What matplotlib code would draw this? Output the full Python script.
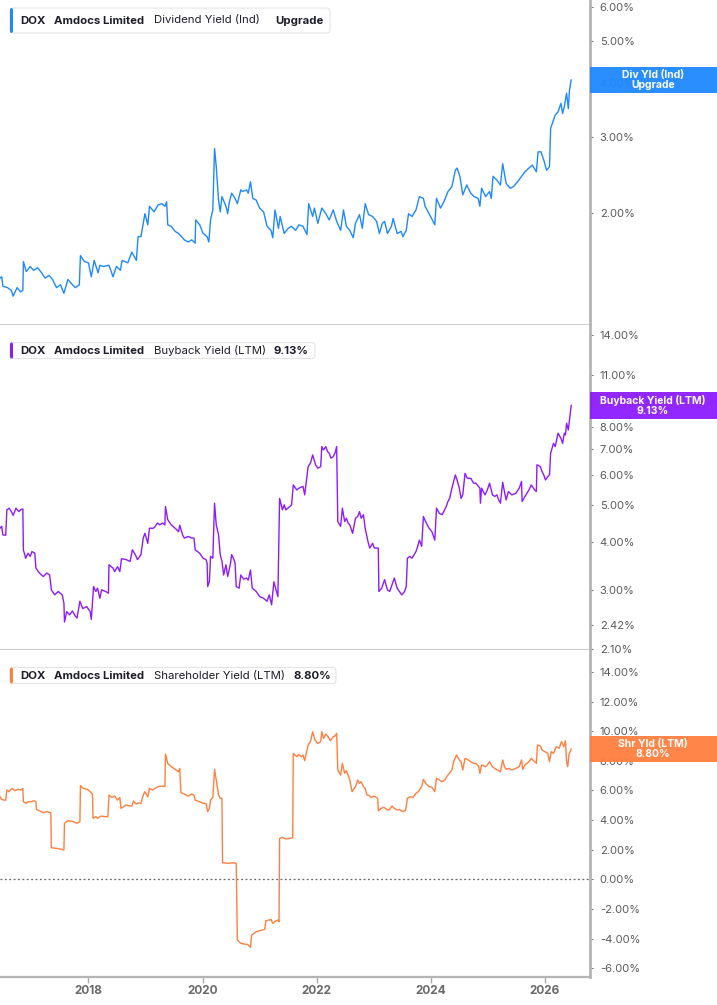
import matplotlib
matplotlib.use("Agg")
import matplotlib.pyplot as plt
from matplotlib.patches import FancyBboxPatch, Rectangle
from matplotlib.ticker import FixedLocator, NullLocator

W, H = 717, 1005

# Dividend yield (Ind), %
div_years = [2016.45, 2016.48, 2016.50, 2016.58, 2016.65, 2016.68, 2016.75, 2016.81, 2016.85, 2016.86,
             2016.91, 2016.98, 2017.04, 2017.11, 2017.18, 2017.24, 2017.31, 2017.37, 2017.44, 2017.51,
             2017.57, 2017.64, 2017.70, 2017.77, 2017.84, 2017.86, 2017.93, 2018.00, 2018.05, 2018.10,
             2018.17, 2018.20, 2018.26, 2018.36, 2018.43, 2018.49, 2018.56, 2018.59, 2018.69, 2018.76,
             2018.84, 2018.87, 2018.92, 2018.96, 2018.99, 2019.04, 2019.07, 2019.15, 2019.22, 2019.29,
             2019.34, 2019.37, 2019.39, 2019.45, 2019.52, 2019.58, 2019.68, 2019.75, 2019.81, 2019.87,
             2019.88, 2019.95, 2020.01, 2020.08, 2020.11, 2020.14, 2020.18, 2020.21, 2020.24, 2020.28,
             2020.31, 2020.34, 2020.41, 2020.44, 2020.47, 2020.51, 2020.57, 2020.61, 2020.67, 2020.70,
             2020.77, 2020.80, 2020.84, 2020.88, 2020.94, 2021.00, 2021.07, 2021.13, 2021.20, 2021.23,
             2021.27, 2021.33, 2021.36, 2021.43, 2021.50, 2021.56, 2021.63, 2021.69, 2021.76, 2021.83,
             2021.86, 2021.93, 2021.96, 2022.02, 2022.09, 2022.16, 2022.22, 2022.29, 2022.35, 2022.42,
             2022.47, 2022.52, 2022.58, 2022.64, 2022.68, 2022.75, 2022.80, 2022.85, 2022.91, 2022.98,
             2023.05, 2023.10, 2023.15, 2023.19, 2023.24, 2023.31, 2023.34, 2023.41, 2023.48, 2023.51,
             2023.57, 2023.61, 2023.67, 2023.74, 2023.80, 2023.87, 2023.90, 2023.97, 2024.04, 2024.07,
             2024.10, 2024.17, 2024.23, 2024.30, 2024.37, 2024.43, 2024.46, 2024.51, 2024.56, 2024.63,
             2024.70, 2024.76, 2024.83, 2024.86, 2024.89, 2024.96, 2025.03, 2025.06, 2025.09, 2025.16,
             2025.22, 2025.26, 2025.32, 2025.39, 2025.45, 2025.52, 2025.59, 2025.65, 2025.72, 2025.78,
             2025.85, 2025.88, 2025.93, 2025.98, 2026.03, 2026.08, 2026.10, 2026.15, 2026.18, 2026.23,
             2026.28, 2026.31, 2026.34, 2026.38, 2026.41, 2026.43, 2026.46]
div_vals = [1.41, 1.42, 1.35, 1.34, 1.32, 1.28, 1.34, 1.31, 1.32, 1.54,
            1.46, 1.50, 1.47, 1.49, 1.45, 1.41, 1.43, 1.40, 1.34, 1.36,
            1.30, 1.40, 1.37, 1.34, 1.36, 1.59, 1.54, 1.53, 1.42, 1.55,
            1.45, 1.51, 1.50, 1.51, 1.42, 1.50, 1.47, 1.55, 1.53, 1.62,
            1.55, 1.76, 1.76, 1.89, 1.99, 1.875, 2.07, 2.01, 2.085, 2.10,
            2.07, 2.12, 1.875, 1.86, 1.81, 1.79, 1.73, 1.71, 1.73, 1.70,
            1.925, 1.875, 1.79, 1.76, 1.71, 1.925, 2.03, 2.82, 2.56, 2.14,
            2.01, 2.18, 2.07, 1.99, 2.12, 2.22, 2.16, 2.10, 2.26, 2.24,
            2.26, 2.22, 2.36, 2.16, 2.14, 2.05, 2.01, 1.86, 1.82, 1.75,
            2.03, 1.84, 1.96, 1.79, 1.84, 1.86, 1.82, 1.875, 1.86, 1.78,
            2.10, 1.96, 2.05, 1.89, 2.05, 1.99, 1.925, 2.03, 1.91, 1.82,
            2.03, 1.86, 1.82, 1.75, 1.89, 1.98, 1.84, 2.10, 1.98, 1.96,
            1.91, 1.79, 1.89, 1.91, 1.79, 1.86, 1.94, 1.79, 1.81, 1.76,
            1.82, 1.99, 1.96, 2.03, 2.18, 2.16, 2.07, 1.99, 1.91, 1.875,
            2.16, 2.05, 2.12, 2.24, 2.30, 2.51, 2.54, 2.43, 2.20, 2.32,
            2.22, 2.18, 2.16, 2.07, 2.28, 2.18, 2.24, 2.16, 2.43, 2.38,
            2.32, 2.60, 2.34, 2.28, 2.30, 2.36, 2.43, 2.49, 2.54, 2.58,
            2.49, 2.77, 2.77, 2.65, 2.51, 2.56, 3.14, 3.28, 3.37, 3.43,
            3.59, 3.40, 3.53, 3.79, 3.49, 3.85, 4.07]

# Buyback yield (LTM), %
bb_years = [2016.45, 2016.48, 2016.50, 2016.55, 2016.57, 2016.61, 2016.65, 2016.68, 2016.73, 2016.78,
            2016.81, 2016.85, 2016.86, 2016.90, 2016.94, 2016.98, 2017.01, 2017.06, 2017.08, 2017.14,
            2017.21, 2017.27, 2017.32, 2017.35, 2017.41, 2017.47, 2017.54, 2017.57, 2017.58, 2017.62,
            2017.67, 2017.72, 2017.77, 2017.80, 2017.85, 2017.90, 2017.97, 2018.03, 2018.05, 2018.09,
            2018.13, 2018.16, 2018.20, 2018.23, 2018.30, 2018.35, 2018.36, 2018.43, 2018.46, 2018.51,
            2018.55, 2018.58, 2018.66, 2018.73, 2018.77, 2018.82, 2018.86, 2018.92, 2018.96, 2018.99,
            2019.04, 2019.07, 2019.14, 2019.17, 2019.21, 2019.25, 2019.30, 2019.34, 2019.35, 2019.39,
            2019.45, 2019.52, 2019.58, 2019.60, 2019.65, 2019.68, 2019.75, 2019.81, 2019.85, 2019.87,
            2019.95, 2020.01, 2020.06, 2020.08, 2020.09, 2020.12, 2020.14, 2020.18, 2020.21, 2020.24,
            2020.28, 2020.31, 2020.34, 2020.37, 2020.41, 2020.44, 2020.49, 2020.51, 2020.54, 2020.57,
            2020.59, 2020.64, 2020.67, 2020.72, 2020.77, 2020.80, 2020.84, 2020.87, 2020.94, 2021.00,
            2021.07, 2021.13, 2021.17, 2021.21, 2021.25, 2021.28, 2021.32, 2021.35, 2021.40, 2021.43,
            2021.46, 2021.53, 2021.56, 2021.59, 2021.65, 2021.69, 2021.76, 2021.79, 2021.85, 2021.89,
            2021.93, 2021.98, 2022.02, 2022.07, 2022.09, 2022.12, 2022.16, 2022.19, 2022.22, 2022.25,
            2022.29, 2022.32, 2022.35, 2022.37, 2022.42, 2022.45, 2022.49, 2022.52, 2022.55, 2022.58,
            2022.63, 2022.68, 2022.72, 2022.75, 2022.78, 2022.82, 2022.85, 2022.90, 2022.93, 2022.98,
            2023.01, 2023.08, 2023.09, 2023.14, 2023.19, 2023.24, 2023.28, 2023.32, 2023.36, 2023.41,
            2023.45, 2023.49, 2023.54, 2023.57, 2023.59, 2023.63, 2023.67, 2023.74, 2023.77, 2023.80,
            2023.84, 2023.87, 2023.92, 2023.97, 2024.02, 2024.07, 2024.10, 2024.15, 2024.20, 2024.27,
            2024.30, 2024.33, 2024.37, 2024.43, 2024.46, 2024.50, 2024.53, 2024.56, 2024.60, 2024.64,
            2024.70, 2024.75, 2024.79, 2024.86, 2024.87, 2024.89, 2024.95, 2024.99, 2025.03, 2025.08,
            2025.12, 2025.16, 2025.19, 2025.22, 2025.26, 2025.29, 2025.32, 2025.36, 2025.42, 2025.49,
            2025.55, 2025.59, 2025.60, 2025.65, 2025.72, 2025.76, 2025.82, 2025.85, 2025.86, 2025.92,
            2025.95, 2025.98, 2026.01, 2026.05, 2026.08, 2026.10, 2026.15, 2026.18, 2026.23, 2026.28,
            2026.31, 2026.34, 2026.36, 2026.38, 2026.41, 2026.43, 2026.46]
bb_vals = [4.35, 4.40, 4.18, 4.17, 4.86, 4.91, 4.81, 4.70, 4.91, 4.81,
           4.86, 4.89, 3.82, 3.63, 3.74, 3.67, 3.78, 3.74, 3.42, 3.32,
           3.25, 3.32, 3.28, 3.00, 2.91, 2.97, 2.91, 2.77, 2.47, 2.63,
           2.58, 2.64, 2.56, 2.53, 2.80, 2.68, 2.71, 2.63, 2.51, 3.06,
           2.97, 3.03, 2.85, 3.00, 2.97, 2.94, 3.49, 3.42, 3.35, 3.45,
           3.35, 3.62, 3.60, 3.56, 3.82, 3.71, 3.60, 3.71, 4.10, 4.22,
           3.97, 4.35, 4.35, 4.40, 4.49, 4.44, 4.49, 4.44, 4.96, 4.58,
           4.44, 4.35, 4.26, 4.43, 4.18, 4.10, 4.14, 4.10, 4.10, 3.82,
           3.74, 3.63, 3.60, 3.52, 3.06, 3.16, 3.67, 3.63, 5.06, 4.44,
           4.18, 3.71, 3.56, 3.28, 3.49, 3.25, 3.52, 3.71, 3.63, 3.52,
           3.06, 3.03, 3.28, 3.20, 3.22, 3.18, 3.38, 3.03, 2.97, 2.88,
           2.85, 2.80, 2.91, 2.74, 3.15, 3.03, 2.88, 5.21, 4.86, 5.01,
           4.86, 4.96, 5.01, 5.65, 5.48, 5.54, 5.60, 5.32, 6.31, 6.44,
           6.77, 6.38, 6.25, 6.31, 7.12, 6.98, 7.12, 6.91, 6.84, 6.64,
           6.70, 6.84, 7.12, 4.53, 4.40, 4.91, 4.53, 4.62, 4.49, 4.44,
           4.22, 4.62, 4.67, 4.81, 4.62, 4.72, 4.35, 4.01, 3.86, 3.97,
           3.86, 3.86, 2.97, 3.03, 3.19, 3.00, 2.97, 3.09, 3.22, 3.03,
           2.97, 2.91, 2.97, 3.06, 3.63, 3.67, 3.63, 3.78, 3.90, 4.05,
           3.90, 4.67, 4.49, 4.35, 4.26, 4.05, 4.91, 4.76, 4.72, 4.96,
           5.11, 5.21, 5.54, 6.00, 5.82, 5.54, 5.21, 5.32, 6.06, 5.88,
           5.88, 5.71, 5.71, 5.54, 5.06, 5.54, 5.32, 5.48, 5.71, 5.32,
           5.27, 5.32, 5.16, 5.06, 5.74, 5.43, 5.16, 5.43, 5.32, 5.37,
           5.54, 5.77, 5.11, 5.27, 5.48, 5.65, 5.48, 5.43, 6.38, 6.31,
           6.12, 6.00, 5.82, 5.94, 6.00, 6.84, 7.26, 7.12, 7.72, 7.49,
           7.26, 7.72, 7.64, 8.20, 7.87, 8.36, 9.13]

# Shareholder yield (LTM), %
sh_years = [2016.45, 2016.48, 2016.52, 2016.55, 2016.57, 2016.61, 2016.66, 2016.71, 2016.77, 2016.81,
            2016.85, 2016.86, 2016.91, 2016.94, 2016.99, 2017.04, 2017.08, 2017.09, 2017.14, 2017.21,
            2017.27, 2017.34, 2017.35, 2017.44, 2017.54, 2017.57, 2017.58, 2017.64, 2017.74, 2017.80,
            2017.85, 2017.86, 2017.91, 2017.98, 2018.03, 2018.07, 2018.08, 2018.13, 2018.16, 2018.22,
            2018.30, 2018.34, 2018.36, 2018.41, 2018.46, 2018.51, 2018.55, 2018.57, 2018.66, 2018.73,
            2018.76, 2018.79, 2018.84, 2018.88, 2018.92, 2018.96, 2018.99, 2019.04, 2019.07, 2019.12,
            2019.17, 2019.22, 2019.29, 2019.34, 2019.35, 2019.39, 2019.45, 2019.52, 2019.58, 2019.60,
            2019.62, 2019.68, 2019.75, 2019.81, 2019.85, 2019.87, 2019.95, 2020.01, 2020.06, 2020.09,
            2020.12, 2020.14, 2020.18, 2020.21, 2020.24, 2020.28, 2020.31, 2020.34, 2020.35, 2020.44,
            2020.54, 2020.59, 2020.61, 2020.67, 2020.74, 2020.79, 2020.84, 2020.86, 2020.94, 2021.04,
            2021.09, 2021.11, 2021.17, 2021.20, 2021.23, 2021.26, 2021.32, 2021.34, 2021.35, 2021.40,
            2021.46, 2021.53, 2021.58, 2021.59, 2021.65, 2021.69, 2021.73, 2021.76, 2021.79, 2021.85,
            2021.89, 2021.93, 2021.97, 2022.02, 2022.07, 2022.09, 2022.12, 2022.16, 2022.20, 2022.24,
            2022.29, 2022.32, 2022.35, 2022.37, 2022.42, 2022.45, 2022.49, 2022.52, 2022.55, 2022.58,
            2022.62, 2022.68, 2022.72, 2022.75, 2022.78, 2022.82, 2022.85, 2022.88, 2022.91, 2022.95,
            2023.01, 2023.07, 2023.08, 2023.13, 2023.18, 2023.24, 2023.28, 2023.32, 2023.36, 2023.41,
            2023.45, 2023.51, 2023.56, 2023.59, 2023.64, 2023.69, 2023.74, 2023.78, 2023.82, 2023.84,
            2023.87, 2023.92, 2023.97, 2024.02, 2024.07, 2024.10, 2024.15, 2024.20, 2024.25, 2024.30,
            2024.37, 2024.40, 2024.45, 2024.50, 2024.53, 2024.56, 2024.60, 2024.64, 2024.70, 2024.75,
            2024.79, 2024.84, 2024.86, 2024.89, 2024.96, 2024.99, 2025.03, 2025.08, 2025.12, 2025.17,
            2025.22, 2025.26, 2025.29, 2025.32, 2025.37, 2025.42, 2025.49, 2025.55, 2025.59, 2025.61,
            2025.65, 2025.72, 2025.76, 2025.82, 2025.85, 2025.87, 2025.92, 2025.95, 2026.00, 2026.05,
            2026.08, 2026.11, 2026.15, 2026.20, 2026.25, 2026.29, 2026.33, 2026.36, 2026.38, 2026.40,
            2026.42, 2026.46]
sh_vals = [5.58, 5.40, 5.35, 5.35, 6.03, 5.92, 6.14, 5.99, 6.08, 6.03,
           6.14, 5.24, 5.13, 5.24, 5.24, 5.31, 5.24, 4.72, 4.63, 4.50,
           4.57, 4.50, 2.13, 2.09, 2.02, 1.98, 3.78, 3.96, 3.89, 3.78,
           3.89, 6.32, 6.14, 6.08, 5.92, 5.76, 4.12, 4.23, 4.12, 4.27,
           4.23, 4.23, 5.69, 5.53, 5.62, 5.35, 5.53, 4.79, 5.02, 4.95,
           4.95, 5.29, 5.08, 5.17, 5.13, 5.69, 5.92, 5.58, 6.14, 6.03,
           6.14, 6.26, 6.30, 6.26, 8.46, 7.83, 7.61, 7.43, 7.27, 7.49,
           5.85, 5.76, 5.62, 5.76, 5.69, 5.35, 5.24, 5.13, 5.13, 4.57,
           4.79, 5.35, 5.53, 7.43, 6.71, 5.69, 5.47, 5.47, 1.12, 1.08,
           1.12, 1.08, -4.10, -4.33, -4.38, -4.40, -4.60, -3.77, -3.54, -3.43,
           -3.38, -2.80, -2.75, -2.71, -2.98, -2.87, -2.75, -2.87, 2.76, 2.83,
           2.72, 2.76, 2.81, 8.51, 8.28, 8.44, 8.28, 8.40, 8.01, 9.07,
           9.30, 9.97, 9.41, 9.18, 9.30, 9.97, 9.52, 9.81, 9.63, 9.36,
           9.63, 9.68, 9.86, 7.38, 7.04, 7.83, 7.16, 7.34, 7.04, 6.71,
           5.92, 6.26, 6.71, 6.48, 6.59, 6.26, 6.14, 5.69, 5.69, 5.53,
           5.62, 5.47, 4.63, 4.79, 4.86, 4.68, 4.72, 4.95, 4.79, 4.68,
           4.72, 4.57, 4.68, 5.47, 5.58, 5.53, 5.81, 5.92, 6.14, 6.26,
           6.75, 6.44, 6.26, 6.21, 5.92, 6.82, 6.71, 6.59, 6.75, 7.04,
           7.38, 7.94, 8.40, 8.06, 7.94, 7.38, 8.17, 8.10, 7.94, 7.83,
           7.83, 7.61, 7.16, 7.72, 7.61, 7.72, 7.94, 7.61, 7.49, 7.38,
           7.27, 8.06, 7.61, 7.43, 7.49, 7.38, 7.49, 7.61, 8.06, 7.43,
           7.72, 7.94, 8.17, 7.94, 7.83, 9.07, 9.00, 8.73, 8.62, 8.51,
           7.94, 8.62, 8.51, 8.96, 8.85, 9.30, 8.96, 9.36, 7.94, 7.61,
           8.40, 8.80]

div_ticks = [2, 3, 4, 5, 6]
bb_ticks = [2.10, 2.42, 3, 4, 5, 6, 7, 8, 11, 14]
sh_ticks = [-6, -4, -2, 0, 2, 4, 6, 8, 10, 12, 14]
year_ticks = [2018, 2020, 2022, 2024, 2026]

BLUE = "#1f88ff"
PURPLE = "#8c1bff"
ORANGE = "#ff7f3f"
TXT = "#1d1d2b"


def fx(px):
    return px / W


def fy(py):
    return 1 - py / H


plt.rcParams['font.family'] = ['Inter', 'DejaVu Sans']

fig = plt.figure(figsize=(W / 100, H / 100), dpi=100)
fig.patch.set_facecolor("white")

AX_R = 590
panels = [
    dict(top=0, bot=324, x=div_years, y=div_vals, color=BLUE, log=True,
         ylim=(1.103, 6.24), ticks=div_ticks, box=(8, 25),
         legend=[("DOX", "bold", 20.5), ("Amdocs Limited", "bold", 54.5),
                 ("Dividend Yield (Ind)", "normal", 154.5), ("Upgrade", "bold", 275.5)],
         lg_right=330, tag="Div Yld (Ind)\nUpgrade"),
    dict(top=325, bot=649, x=bb_years, y=bb_vals, color=PURPLE, log=True,
         ylim=(2.099, 14.83), ticks=bb_ticks, box=(342.5, 16),
         legend=[("DOX", "bold", 20.5), ("Amdocs Limited", "bold", 54.5),
                 ("Buyback Yield (LTM)", "normal", 154.5), ("9.13%", "bold", 274)],
         lg_right=315, tag="Buyback Yield (LTM)\n9.13%"),
    dict(top=650, bot=977, x=sh_years, y=sh_vals, color=ORANGE, log=False,
         ylim=(-6.6, 15.49), ticks=sh_ticks, box=(667.5, 16),
         legend=[("DOX", "bold", 20.5), ("Amdocs Limited", "bold", 54.5),
                 ("Shareholder Yield (LTM)", "normal", 154.5), ("8.80%", "bold", 294)],
         lg_right=336, tag="Shr Yld (LTM)\n8.80%"),
]

for i, p in enumerate(panels):
    ax = fig.add_axes([0, fy(p["bot"]), fx(AX_R), (p["bot"] - p["top"]) / H])
    ax.set_facecolor("none")
    ax.plot(p["x"], p["y"], color=p["color"], lw=1.0, zorder=3)
    if p["log"]:
        ax.set_yscale("log")
    ax.set_ylim(*p["ylim"])
    ax.set_xlim(2016.45, 2026.79)
    ax.yaxis.set_major_locator(FixedLocator(p["ticks"]))
    ax.yaxis.set_minor_locator(NullLocator())
    ax.set_yticklabels([f"{t:.2f}%" for t in p["ticks"]])
    ax.yaxis.tick_right()
    ax.tick_params(axis="y", length=2.5, width=0.8, color="#777777", pad=4.5,
                   labelsize=8, labelcolor="#5a5a5a")
    for s in ["left", "top"]:
        ax.spines[s].set_visible(False)
    ax.spines["right"].set_color("#b4b4b4")
    ax.spines["right"].set_linewidth(2)
    if i < 2:
        ax.spines["bottom"].set_color("#cfcfcf")
        ax.spines["bottom"].set_linewidth(0.8)
        ax.set_xticks([])
    else:
        ax.spines["bottom"].set_color("#b4b4b4")
        ax.spines["bottom"].set_linewidth(1.6)
        ax.set_xticks(year_ticks)
        ax.set_xticklabels([str(y) for y in year_ticks], fontweight="bold")
        ax.tick_params(axis="x", length=4, width=1, color="#aaaaaa", pad=2,
                       labelsize=8.5, labelcolor="#6a6a6a")
        ax.axhline(0, color="#666666", lw=0.9, ls=(0, (1.5, 2)), zorder=2)

    # legend box in the top-left corner
    ytop, box_h = p["box"]
    cy = ytop + box_h / 2
    fig.add_artist(FancyBboxPatch((fx(10), fy(ytop + box_h)), fx(p["lg_right"] - 10), box_h / H,
                                  boxstyle="round,pad=0,rounding_size=0.004",
                                  transform=fig.transFigure, facecolor="white",
                                  edgecolor="#e4e4e4", lw=0.8, zorder=10))
    fig.add_artist(FancyBboxPatch((fx(10), fy(ytop + box_h)), fx(3), box_h / H,
                                  boxstyle="round,pad=0,rounding_size=0.002",
                                  transform=fig.transFigure, facecolor=p["color"],
                                  edgecolor="none", zorder=11))
    for txt, wt, xpos in p["legend"]:
        fig.text(fx(xpos), fy(cy), txt, fontsize=8.2, fontweight=wt, color=TXT,
                 ha="left", va="center", zorder=12)

    # value tag on the right axis at the last value
    dy = ax.transData.transform((p["x"][-1], p["y"][-1]))[1]
    tag_cy = H - dy
    fig.add_artist(Rectangle((fx(AX_R), fy(tag_cy + 13.3)), fx(W - AX_R), 26.6 / H,
                             transform=fig.transFigure, facecolor=p["color"],
                             edgecolor="none", alpha=0.95, zorder=10))
    fig.text(fx(653), fy(tag_cy), p["tag"], fontsize=7.5, fontweight="bold", color="white",
             ha="center", va="center", linespacing=1.05, zorder=12)

fig.savefig("out.png", dpi=100, facecolor="white")
